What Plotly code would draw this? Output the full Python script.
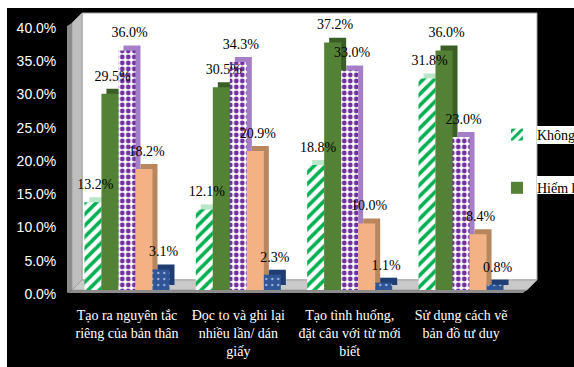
import plotly.graph_objects as go

categories = [
    "Tạo ra nguyên tắc<br>riêng của bản thân",
    "Đọc to và ghi lại<br>nhiều lần/ dán<br>giấy",
    "Tạo tình huống,<br>đặt câu với từ mới<br>biết",
    "Sử dụng cách vẽ<br>bản đồ tư duy",
]
series_names = ["Không bao giờ", "Hiếm khi", "Thỉnh thoảng", "Thường xuyên", "Rất thường xuyên"]
s1 = [13.2, 12.1, 18.8, 31.8]
s2 = [29.5, 30.5, 37.2, 36.0]
s3 = [36.0, 34.3, 33.0, 23.0]
s4 = [18.2, 20.9, 10.0, 8.4]
s5 = [3.1, 2.3, 1.1, 0.8]
values = [s1, s2, s3, s4, s5]
y_ticks = [0, 5, 10, 15, 20, 25, 30, 35, 40]
y_ticktext = [f"{v:.1f}%" for v in y_ticks]

W, H = 574, 367
def px(x):
    return x / W
def py(y):
    return 1 - y / H

pos = list(range(len(categories)))

main_markers = [
    dict(color="white", pattern=dict(shape="/", fgcolor="#00B050", bgcolor="white", size=8, solidity=0.45, fillmode="replace")),
    dict(color="#538135"),
    dict(color="white", pattern=dict(shape=".", fgcolor="#7030A0", bgcolor="white", size=6, solidity=0.5, fillmode="replace")),
    dict(color="#F4B183"),
    dict(color="#2F5597", pattern=dict(shape=".", fgcolor="#9DB3DD", bgcolor="#2F5597", size=6, solidity=0.12, fillmode="replace")),
]
shadow_colors = ["#B8E6C6", "#3A5E25", "#A47FC8", "#B9875F", "#1F3D73"]

bw = 17 / 111.3
dx = 5 / 111.3
dy = 0.75
label_gap = 0.7

fig = go.Figure()
for i, (name, vals) in enumerate(zip(series_names, values)):
    off = -2.5 * bw + i * bw
    fig.add_trace(go.Bar(
        x=pos, y=vals, base=[dy] * len(vals), offset=off + dx, width=bw,
        marker=dict(color=shadow_colors[i], line=dict(width=0)),
        showlegend=False, hoverinfo="skip",
    ))
    fig.add_trace(go.Bar(
        x=pos, y=vals, name=name, offset=off, width=bw,
        marker=dict(line=dict(width=0), **main_markers[i]),
        showlegend=(i < 2), legendgroup=f"g{i}",
    ))

for i, vals in enumerate(values):
    off = -2.5 * bw + i * bw
    fig.add_trace(go.Scatter(
        x=[p + off + bw / 2 + dx / 2 for p in pos], y=[v + dy + label_gap for v in vals],
        mode="text", text=[f"{v:.1f}%" for v in vals], textposition="top center",
        textfont=dict(family="Liberation Serif", size=14, color="black"),
        cliponaxis=False, showlegend=False, hoverinfo="skip",
    ))

def poly(pts, fill, line=None):
    path = "M " + " L ".join(f"{px(a):.5f},{py(b):.5f}" for a, b in pts) + " Z"
    return dict(type="path", xref="paper", yref="paper", path=path, fillcolor=fill,
                line=dict(width=1 if line else 0, color=line or fill), layer="below")

shapes = [
    dict(type="rect", xref="paper", yref="paper", x0=px(7), x1=1, y0=0, y1=py(8),
         fillcolor="black", line=dict(width=0), layer="below"),
    dict(type="rect", xref="paper", yref="paper", x0=px(82), x1=px(537), y0=py(280), y1=py(13),
         fillcolor="white", line=dict(width=1, color="#A6A6A6"), layer="below"),
    poly([(72, 23), (82, 13), (82, 280), (72, 290)], "#BFBFBF", "#A0A0A0"),
    poly([(67, 26), (72, 23), (72, 290), (67, 293)], "#8C8C8C"),
    poly([(82, 280), (537, 280), (527, 290), (72, 290)], "#C9C9C9", "#A0A0A0"),
    poly([(67, 293), (72, 290), (527, 290), (523, 293)], "#8C8C8C"),
    dict(type="rect", xref="paper", yref="paper", x0=px(537), x1=1, y0=py(144), y1=py(126),
         fillcolor="white", line=dict(width=0), layer="below"),
    dict(type="rect", xref="paper", yref="paper", x0=px(537), x1=1, y0=py(194), y1=py(176),
         fillcolor="white", line=dict(width=0), layer="below"),
]

fig.update_layout(
    width=W, height=H, autosize=False,
    margin=dict(l=0, r=0, t=0, b=0, autoexpand=False),
    paper_bgcolor="white", plot_bgcolor="rgba(0,0,0,0)",
    barmode="overlay",
    shapes=shapes,
    xaxis=dict(domain=[px(71.3), px(516.7)], range=[-0.5, 3.5], automargin=False,
               tickvals=pos, ticktext=categories, tickangle=0,
               showgrid=False, zeroline=False, showline=False, ticks="",
               tickfont=dict(family="Liberation Serif", size=14, color="white"),
               ticklabelstandoff=15),
    yaxis=dict(domain=[py(290), py(24)], range=[0, 40], automargin=False,
               tickvals=y_ticks, ticktext=y_ticktext,
               showgrid=False, zeroline=False, showline=False, ticks="",
               ticklabelshift=4, ticklabelstandoff=14,
               tickfont=dict(family="Liberation Sans", size=14, color="white")),
    legend=dict(x=px(497), y=py(119), xanchor="left", yanchor="top",
                bgcolor="rgba(0,0,0,0)", tracegroupgap=32,
                font=dict(family="Liberation Serif", size=14, color="black")),
    showlegend=True,
)

fig.write_html("out.html")
